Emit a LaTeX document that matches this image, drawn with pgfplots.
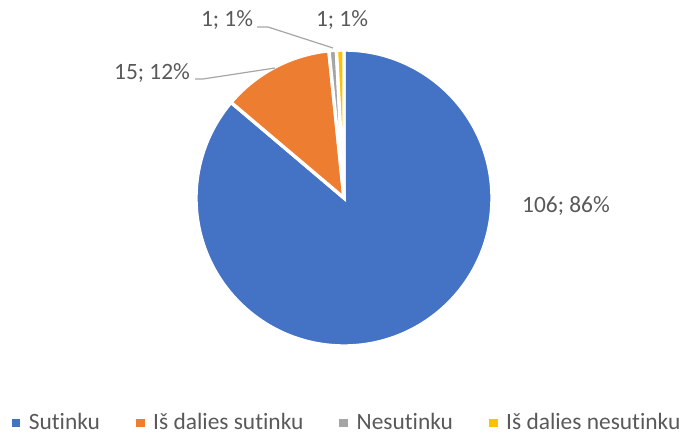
\documentclass[border=0pt]{standalone}
\usepackage{pgfplots}
\pgfplotsset{compat=1.18}
\usepackage{fontspec}
\setmainfont{Carlito}[Ligatures=NoCommon]

\definecolor{pieblue}{HTML}{4472C4}
\definecolor{pieorange}{HTML}{ED7D31}
\definecolor{piegray}{HTML}{A5A5A5}
\definecolor{pieyellow}{HTML}{FFC000}
\definecolor{txtgray}{HTML}{595959}
\definecolor{leadgray}{HTML}{A6A6A6}

% one axis unit = one pixel of the 691x436 reference (0.5pt)
\begin{document}
\begin{tikzpicture}
\begin{axis}[
  width=345.5pt, height=218pt, scale only axis,
  xmin=0, xmax=691, ymin=0, ymax=436,
  hide axis, clip=false,
  legend columns=-1,
  legend image code/.code={\fill[#1] (0pt,-1.9pt) rectangle (3.9pt,2pt); \path (6.2pt,0pt);},
  legend style={draw=none, fill=none, text=txtgray,
    font=\fontsize{11.7}{14}\selectfont,
    at={(axis cs:348,13)}, anchor=center,
    /tikz/every even column/.append style={column sep=16pt}},
]
\path (rel axis cs:0,0) rectangle (rel axis cs:1,1);

% slices: value/colour, clockwise from 12 o'clock, total 123
\gdef\startang{90}
\foreach \v/\c in {106/pieblue, 15/pieorange, 1/piegray, 1/pieyellow}{
  \pgfmathsetmacro{\endang}{\startang-\v/123*360}
  \edef\temp{\noexpand\fill[\c, draw=white, line width=1.7pt, line join=miter]
    (axis cs:344,238) -- ++(\startang:74pt)
    arc[start angle=\startang, end angle=\endang, radius=74pt] -- cycle;}
  \temp
  \xdef\startang{\endang}
}

% leader lines
\draw[leadgray, line width=0.6pt] (axis cs:195,357) -- (axis cs:203,357) -- (axis cs:275,368);
\draw[leadgray, line width=0.6pt] (axis cs:257,409) -- (axis cs:268,409) -- (axis cs:333,388);

% data labels
\begin{scope}[every node/.style={text=txtgray, font=\fontsize{11.7}{14}\selectfont, inner sep=0pt}]
\node at (axis cs:566,230) {106; 86\%};
\node at (axis cs:152,363) {15; 12\%};
\node at (axis cs:227,416) {1; 1\%};
\node at (axis cs:342,416) {1; 1\%};
\end{scope}

\addlegendimage{pieblue}\addlegendentry{Sutinku}
\addlegendimage{pieorange}\addlegendentry{Iš dalies sutinku}
\addlegendimage{piegray}\addlegendentry{Nesutinku}
\addlegendimage{pieyellow}\addlegendentry{Iš dalies nesutinku}
\end{axis}
\end{tikzpicture}
\end{document}
